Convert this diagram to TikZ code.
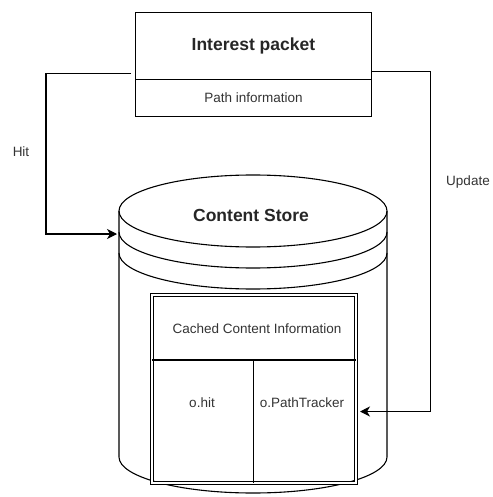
\documentclass[tikz,border=0pt]{standalone}
\usepackage{fontspec}
\setmainfont{Liberation Sans}
\usetikzlibrary{arrows.meta,positioning}
\tikzset{
  box/.style={draw,line width=1.1pt,inner sep=0pt,outer sep=0pt},
  conn/.style={line width=1.1pt,-{Stealth[length=10pt,width=10pt,inset=3pt]}},
  lbl/.style={text=black!80,font=\fontsize{13.5}{16}\selectfont},
  big/.style={text=black!85,font=\fontsize{17.5}{20}\selectfont\bfseries},
  ring/.style={line width=1.1pt},
}
\begin{document}
\begin{tikzpicture}[x=1pt,y=-1pt]
    \useasboundingbox (0,0) rectangle (492,497);
    % 兴趣包
    \node[box,big,minimum width=236.5pt,minimum height=67pt,anchor=north west] (ipkt) at (135.2,12.3) {Interest packet};
    \node[box,lbl,minimum width=236.5pt,minimum height=37pt,below=0pt of ipkt] (pinfo) {Path information};
    % 内容存储(圆柱)
    \draw[ring] (253,211) ellipse [x radius=134pt,y radius=36pt];                % 顶面
    \draw[ring] (119,211) -- (119,457) arc [start angle=180,end angle=360,x radius=134pt,y radius=36pt] -- (387,211);
    \draw[ring] (119,232) arc [start angle=180,end angle=360,x radius=134pt,y radius=36pt];
    \draw[ring] (119,253) arc [start angle=180,end angle=360,x radius=134pt,y radius=36pt];
    \node[big] (cstore) at (251,215.5) {Content Store};
    % 缓存内容表
    \node[box,double,line width=0.9pt,double distance=2.2pt,minimum width=204pt,minimum height=188pt,anchor=north west] (tbl) at (151.7,295) {};
    \draw[line width=2pt] (tbl.west |- 0,360) -- (tbl.east |- 0,360);
    \draw[line width=1.1pt] (253.3,360) -- (tbl.south -| 253.3,0);
    \node[lbl] (cci) at (257,329) {Cached Content Information};
    \node[lbl] (ohit) at (202,403) {o.hit};
    \node[lbl] (otrk) at (302,403) {o.PathTracker};
    % 连线
    \coordinate (hitstart) at (131,73.3);
    \coordinate (hitend) at (117,234);
    \coordinate (updstart) at (372,71.7);
    \coordinate (updend) at (360,411.5);
    \draw[conn] (hitstart) -- ++(-85,0) |- (hitend);
    \draw[conn] (updstart) -- ++(58.7,0) |- (updend);
    \node[lbl] (hit) at (21,152) {Hit};
    \node[lbl] (upd) at (468,182) {Update};
\end{tikzpicture}
\end{document}
